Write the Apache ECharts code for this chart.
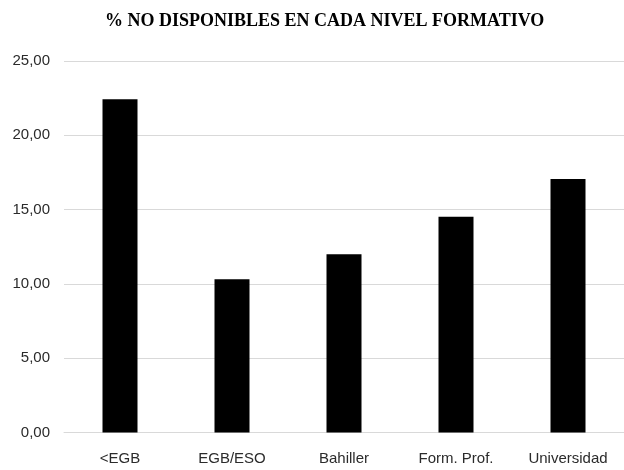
<!DOCTYPE html>
<html>
<head>
<meta charset="utf-8">
<script src="https://cdn.jsdelivr.net/npm/echarts@6/dist/echarts.min.js"></script>
<style>
  html, body { margin: 0; padding: 0; background: #ffffff; }
  #chart { width: 624px; height: 470px; }
</style>
</head>
<body>
<div id="chart"></div>
<script>
// Percentage of people not available, by education level
const categories = ['<EGB', 'EGB/ESO', 'Bahiller', 'Form. Prof.', 'Universidad'];
const values = [22.42, 10.31, 11.99, 14.52, 17.06];
const yTicks = { min: 0, max: 25, interval: 5 };

const chart = echarts.init(document.getElementById('chart'), null, { renderer: 'canvas' });

chart.setOption({
  backgroundColor: '#ffffff',
  animation: false,
  title: {
    text: '% NO DISPONIBLES EN CADA NIVEL FORMATIVO',
    left: 100,
    top: 7,
    textStyle: {
      fontFamily: '"Liberation Serif", "Times New Roman", serif',
      fontWeight: 'bold',
      fontSize: 18,
      color: '#000000'
    }
  },
  grid: { left: 64, top: 61, width: 563, bottom: 37.5, containLabel: false },
  xAxis: {
    type: 'category',
    data: categories,
    axisLine: { lineStyle: { color: '#d9d9d9', width: 1 } },
    axisTick: { show: false },
    axisLabel: {
      margin: 19,
      fontFamily: '"Liberation Sans", Arial, sans-serif',
      fontSize: 15,
      color: '#2b2b2b'
    }
  },
  yAxis: {
    type: 'value',
    min: yTicks.min,
    max: yTicks.max,
    interval: yTicks.interval,
    axisLine: { show: false },
    axisTick: { show: false },
    splitLine: { lineStyle: { color: '#d9d9d9', width: 1 } },
    axisLabel: {
      margin: 14,
      fontFamily: '"Liberation Sans", Arial, sans-serif',
      fontSize: 15,
      color: '#2b2b2b',
      formatter: v => v.toFixed(2).replace('.', ',')
    }
  },
  series: [{
    type: 'bar',
    data: values,
    barWidth: 35,
    itemStyle: { color: '#000000' }
  }]
});
</script>
</body>
</html>
